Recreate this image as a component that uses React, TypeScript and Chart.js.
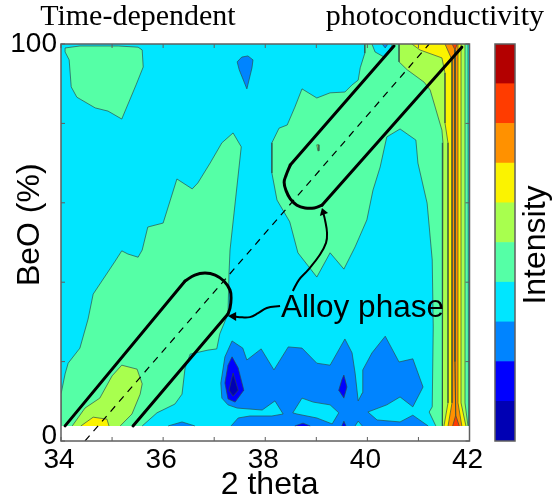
import React, { useEffect, useRef } from "react";
import { Chart, registerables } from "chart.js";

Chart.register(...registerables);

type Pair = [number, number];

const xTickValues = [34, 36, 38, 40, 42];
const yTickLabels = [0, 100];
const intensityLevels = [1, 2, 3, 4, 5, 6, 7, 8, 9, 10];
const levelColors = ["#0000b4", "#0000ff", "#0084ff", "#00e6ff", "#55ffa6", "#a8ff4e", "#fbf300", "#ff9100", "#ff3c00", "#b30000"];

const field: Pair[] = [[34, 3.8], [34, 100], [42, 100], [42, 3.8]];
const greenTopLeft: Pair[] = [[34.08, 99], [34.37, 99.5], [35.12, 99.5], [35.51, 99.2], [35.59, 98.5], [35.61, 94.2], [35.47, 89.7], [35.19, 81.1], [34.92, 83.1], [34.67, 83.9], [34.31, 86.6], [34.2, 89.2], [34.16, 96], [34.08, 98]];
const blueTop: Pair[] = [[37.45, 95.5], [37.54, 96.7], [37.66, 97], [37.76, 96], [37.74, 94], [37.64, 88.7], [37.49, 93.5]];
const greenLowerLeft: Pair[] = [[34, 3.8], [34, 11.8], [34.08, 16.9], [34.14, 19.6], [34.37, 23.4], [34.53, 30.7], [34.63, 37], [35.06, 45.3], [35.19, 47.9], [35.31, 47.1], [35.51, 46.3], [35.59, 48.1], [35.7, 53.9], [36, 54.9], [36.27, 66], [36.57, 63.5], [36.68, 65], [36.92, 70], [37.15, 75.1], [37.37, 77.6], [37.53, 74.1], [37.31, 48.1], [37.29, 42.1], [37.27, 32], [37.11, 27], [37.05, 23.2], [36.88, 22.9], [36.53, 21.9], [36.43, 18.4], [36.37, 11.8], [36.23, 9.3], [35.88, 7.1], [35.59, 3.8]];
const limeLowerLeft: Pair[] = [[34.22, 3.8], [34.47, 8.3], [34.76, 10.8], [35, 16.4], [35.19, 19.1], [35.49, 18.1], [35.59, 14.4], [35.55, 11.8], [35.39, 6.8], [35.16, 3.8]];
const yellowLowerLeft: Pair[] = [[34.39, 3.8], [34.63, 6], [34.9, 5.5], [34.94, 3.8]];
const blueBottomLeft: Pair[] = [[36.1, 3.8], [36.37, 4.8], [36.62, 3.8]];
const blueBig: Pair[] = [[37.33, 3.8], [37.47, 5.8], [37.7, 6.3], [38.13, 6.3], [38.35, 6.8], [38.19, 10.1], [37.94, 7.8], [37.45, 8.3], [37.27, 9.1], [37.15, 10.8], [37.13, 14.6], [37.21, 21.2], [37.35, 25.2], [37.56, 23.4], [37.64, 20.4], [37.92, 23.2], [38.17, 17.9], [38.45, 23.7], [38.72, 23.4], [39.01, 19.6], [39.27, 19.1], [39.56, 25.7], [39.7, 22.2], [39.76, 17.1], [39.82, 10.1], [39.9, 12.1], [39.91, 17.9], [40.09, 22.2], [40.35, 26.4], [40.62, 19.9], [40.89, 20.7], [41.09, 13.6], [40.89, 8.6], [40.64, 11.1], [40.38, 9.1], [40.01, 7.3], [40.19, 5.3], [40.64, 4.8], [40.89, 6.5], [41.19, 3.8]];
const cyanHole: Pair[] = [[38.54, 7.1], [38.72, 10.8], [38.94, 9.8], [39.27, 9.1], [39.44, 7.1], [39.31, 4.3], [39.01, 5.8], [38.62, 6.8]];
const cyanSpeck: Pair[] = [[39.76, 3.8], [39.82, 5], [39.9, 3.8]];
const deepBlueLobe: Pair[] = [[37.35, 21.2], [37.47, 18.4], [37.58, 12.8], [37.41, 9.8], [37.27, 10.6], [37.21, 14.6], [37.27, 19.1]];
const navyLobe: Pair[] = [[37.37, 17.1], [37.47, 12.8], [37.37, 11.3], [37.29, 12.8]];
const deepBlueSmall: Pair[] = [[39.54, 16.6], [39.6, 13.6], [39.54, 10.8], [39.44, 12.8], [39.5, 15.4]];
const deepBlueBottom: Pair[] = [[38.58, 3.8], [38.74, 4.5], [38.88, 3.8]];
const deepBlueNarrow: Pair[] = [[39.5, 3.8], [39.54, 5], [39.58, 3.8]];
const greenMain: Pair[] = [[39.95, 100], [39.95, 97.7], [39.86, 94], [39.82, 90.9], [39.7, 89.7], [39.56, 87.9], [39.27, 87.7], [39.01, 86.4], [38.72, 88.7], [38.58, 84.1], [38.43, 79.6], [38.27, 78.8], [38.13, 75.1], [38.13, 67.5], [38.23, 60.7], [38.48, 55.2], [38.64, 47.4], [39.01, 41.3], [39.27, 47.4], [39.54, 43.3], [39.76, 48.9], [39.99, 55.7], [40.11, 63.2], [40.25, 69], [40.38, 76.6], [40.64, 78.6], [40.95, 75.8], [40.99, 70], [41.17, 59.9], [41.27, 45.6], [41.29, 28.7], [41.27, 8.6], [41.21, 7.3], [41.34, 3.8], [41.98, 3.8], [41.97, 100]];
const cyanPocket: Pair[] = [[40.09, 100], [40.15, 98], [40.33, 96.7], [40.48, 99.5], [40.48, 100]];
const blueSpeck: Pair[] = [[40.29, 100], [40.35, 99], [40.4, 100]];
const limeSpeck: Pair[] = [[39.01, 74.6], [39.05, 74.6], [39.05, 73.1], [39.03, 73.1]];
const limeStrip: Pair[] = [[40.62, 100], [40.62, 95.5], [40.78, 93.5], [41.11, 90.4], [41.23, 88.4], [41.46, 78.3], [41.481, 75.1], [41.481, 30], [41.462, 18], [41.462, 12], [41.47, 3.8], [41.97, 3.8], [41.912, 9.6], [41.912, 100]];
const yellowStrip: Pair[] = [[40.87, 100], [41.03, 98.5], [41.46, 96.5], [41.52, 92.7], [41.52, 80.1], [41.579, 75.1], [41.579, 9.6], [41.5, 3.8], [41.93, 3.8], [41.834, 9.6], [41.834, 100]];
const orangeStrip: Pair[] = [[41.52, 100], [41.657, 96], [41.657, 9.6], [41.58, 3.8], [41.85, 3.8], [41.775, 9.6], [41.775, 100]];
const redStrip: Pair[] = [[41.66, 100], [41.716, 98.5], [41.716, 20], [41.73, 6.5], [41.67, 3.8], [41.8, 3.8], [41.73, 6.5], [41.716, 20], [41.716, 98.5], [41.76, 100]];

const lowerCapsuleLeft: Pair[] = [[34.08, 3.8], [36.43, 40.3]];
const lowerCapsuleArc: Pair[] = [[36.43, 40.3], [36.62, 41.8], [36.82, 42.3], [37.02, 41.8], [37.19, 40.3], [37.31, 38], [37.33, 35.8], [37.31, 33.5], [37.27, 32]];
const lowerCapsuleRight: Pair[] = [[37.27, 32], [35.41, 3.8]];
const upperCapsuleLeft: Pair[] = [[40.52, 99.5], [38.49, 69.5]];
const upperCapsuleArc: Pair[] = [[38.49, 69.5], [38.41, 67], [38.37, 65.2], [38.41, 63], [38.49, 61], [38.62, 59.4], [38.78, 58.7], [38.96, 58.7], [39.11, 59.4]];
const upperCapsuleRight: Pair[] = [[39.11, 59.4], [41.85, 99.2]];
const dashedGuide: Pair[] = [[34.47, 0], [41.21, 100]];
const arrowLeft: Pair[] = [[38.29, 34], [38.03, 33.5], [37.86, 32.2], [37.7, 31.2], [37.5, 31.2], [37.35, 31.5]];
const arrowLeftHead: Pair[] = [[37.27, 31.5], [37.43, 32.5], [37.43, 30.2]];
const arrowUp: Pair[] = [[38.54, 37.8], [38.66, 40.6], [38.84, 43.1], [39.07, 46.9], [39.19, 49.9], [39.21, 52.4], [39.17, 55.7], [39.13, 57.7]];
const arrowUpHead: Pair[] = [[39.11, 58.7], [39.07, 56.7], [39.23, 57.4]];
const annotationAnchor: Pair = [38.31, 33.3];

const SANS = "'Liberation Sans', Arial, sans-serif";
const SERIF = "'Liberation Serif', serif";
const [NAVY, DEEP, BLUE, CYAN, GREEN, LIME, YELLOW, ORANGE, RED] = levelColors;

const layers: [Pair[], string][] = [
  [greenTopLeft, GREEN], [blueTop, BLUE], [greenLowerLeft, GREEN], [limeLowerLeft, LIME], [yellowLowerLeft, YELLOW],
  [blueBottomLeft, BLUE], [blueBig, BLUE], [cyanHole, CYAN], [cyanSpeck, CYAN], [deepBlueLobe, DEEP], [navyLobe, NAVY],
  [deepBlueSmall, DEEP], [deepBlueBottom, DEEP], [deepBlueNarrow, DEEP], [greenMain, GREEN], [cyanPocket, CYAN],
  [blueSpeck, BLUE], [limeSpeck, LIME], [limeStrip, LIME], [yellowStrip, YELLOW], [orangeStrip, ORANGE], [redStrip, RED],
];

const toPoints = (p: Pair[]) => p.map(([x, y]) => ({ x, y }));
const isFrameEdge = (a: Pair, b: Pair) => a[1] === b[1] && (a[1] === 3.8 || a[1] === 100);
const outlinePoints = (p: Pair[]) => {
  const out: { x: number; y: number }[] = [];
  p.forEach((a, i) => {
    const b = p[(i + 1) % p.length];
    out.push({ x: a[0], y: a[1] });
    if (isFrameEdge(a, b)) out.push({ x: NaN, y: NaN });
    else if (i === p.length - 1) out.push({ x: b[0], y: b[1] });
  });
  return out;
};

const buildDatasets = () => {
  const sets: any[] = [];
  let order = 0;
  const base = { showLine: true, pointRadius: 0, pointHoverRadius: 0, tension: 0 };
  const add = (d: any) => sets.push({ ...base, order: order--, ...d });
  add({ data: toPoints(field), fill: "shape", backgroundColor: CYAN, borderWidth: 0 });
  layers.forEach(([poly, color]) => {
    add({ data: toPoints(poly), fill: "shape", backgroundColor: color, borderWidth: 0 });
    add({ data: outlinePoints(poly), fill: false, borderColor: "rgba(45,75,70,0.75)", borderWidth: 0.9, spanGaps: false });
  });
  add({ data: toPoints(dashedGuide), fill: false, borderColor: "#000", borderWidth: 1.2, borderDash: [7, 6] });
  [lowerCapsuleLeft, lowerCapsuleRight, upperCapsuleLeft, upperCapsuleRight].forEach((p) =>
    add({ data: toPoints(p), fill: false, borderColor: "#000", borderWidth: 3, borderCapStyle: "round" }));
  [lowerCapsuleArc, upperCapsuleArc].forEach((p) =>
    add({ data: toPoints(p), fill: false, borderColor: "#000", borderWidth: 3, tension: 0.4, borderCapStyle: "round" }));
  add({ data: toPoints(arrowLeft), fill: false, borderColor: "#000", borderWidth: 2, tension: 0.4 });
  add({ data: toPoints(arrowUp), fill: false, borderColor: "#000", borderWidth: 2, tension: 0.4 });
  add({ data: toPoints(arrowLeftHead), fill: "shape", backgroundColor: "#000", borderWidth: 0 });
  add({ data: toPoints(arrowUpHead), fill: "shape", backgroundColor: "#000", borderWidth: 0 });
  return sets;
};

const framePlugin = {
  id: "frame",
  afterDatasetsDraw(chart: any) {
    const { ctx, chartArea: a, scales } = chart;
    ctx.save();
    ctx.strokeStyle = "#5f5f5f";
    ctx.lineWidth = 1;
    const len = 4;
    ctx.beginPath();
    scales.x.ticks.forEach((t: any) => {
      const p = scales.x.getPixelForValue(t.value);
      ctx.moveTo(p, a.top);
      ctx.lineTo(p, a.top + len);
      ctx.moveTo(p, a.bottom);
      ctx.lineTo(p, a.bottom - len);
    });
    scales.y.ticks.forEach((t: any) => {
      const p = scales.y.getPixelForValue(t.value);
      ctx.moveTo(a.left, p);
      ctx.lineTo(a.left + len, p);
      ctx.moveTo(a.right, p);
      ctx.lineTo(a.right - len, p);
    });
    ctx.stroke();
    ctx.lineWidth = 1.5;
    ctx.strokeRect(a.left, a.top, a.right - a.left, a.bottom - a.top);
    ctx.fillStyle = "#000";
    ctx.font = `31.5px ${SANS}`;
    ctx.textBaseline = "middle";
    ctx.textAlign = "left";
    ctx.fillText("Alloy phase", scales.x.getPixelForValue(annotationAnchor[0]), scales.y.getPixelForValue(annotationAnchor[1]));
    ctx.restore();
  },
};

const colorbarPlugin = {
  id: "colorbarFrame",
  afterDraw(chart: any) {
    const { ctx, chartArea: a } = chart;
    ctx.save();
    ctx.strokeStyle = "#5f5f5f";
    ctx.lineWidth = 1.5;
    ctx.strokeRect(a.left, a.top, a.right - a.left, a.bottom - a.top);
    ctx.fillStyle = "#000";
    ctx.font = `32px ${SANS}`;
    ctx.textAlign = "center";
    ctx.textBaseline = "alphabetic";
    ctx.translate(a.right + 30, 245);
    ctx.rotate(-Math.PI / 2);
    ctx.fillText("Intensity", 0, 0);
    ctx.restore();
  },
};

export default function App() {
  const mainRef = useRef<HTMLCanvasElement>(null);
  const barRef = useRef<HTMLCanvasElement>(null);

  useEffect(() => {
    const main = new Chart(mainRef.current!, {
      type: "scatter",
      data: { datasets: buildDatasets() },
      plugins: [framePlugin],
      options: {
        animation: false,
        responsive: false,
        events: [],
        layout: { padding: { left: 0, right: 10, top: 0, bottom: 0 } },
        plugins: {
          legend: { display: false },
          tooltip: { enabled: false },
          title: {
            display: true,
            text: "Time-dependent            photoconductivity",
            align: "end",
            color: "#000",
            font: { family: SERIF, size: 30, weight: "normal", lineHeight: 34 / 30 },
            padding: { top: 0, bottom: 10 },
          },
        },
        scales: {
          x: {
            type: "linear",
            min: 34,
            max: 42,
            grid: { display: false, drawTicks: false },
            border: { display: false },
            ticks: {
              stepSize: 1,
              autoSkip: false,
              maxRotation: 0,
              labelOffset: -2,
              color: "#000",
              padding: 2,
              font: { family: SANS, size: 28 },
              callback: (v: any) => (xTickValues.includes(v) ? String(v) : ""),
            },
            title: {
              display: true,
              text: " 2 theta",
              color: "#000",
              font: { family: SANS, size: 32, lineHeight: 1 },
              padding: { top: 0, bottom: 1 },
            },
            afterFit: (s: any) => { s.height = 61; },
          },
          y: {
            type: "linear",
            min: 0,
            max: 100,
            grid: { display: false, drawTicks: false },
            border: { display: false },
            ticks: {
              stepSize: 20,
              autoSkip: false,
              color: "#000",
              padding: 4,
              font: (c: any) => ({ family: SANS, size: 28, lineHeight: c.tick && c.tick.value === 0 ? 10 / 28 : 1.2 }),
              callback: (v: any) => (yTickLabels.includes(v) ? (v === 0 ? ["0", ""] : String(v)) : ""),
            },
            title: {
              display: true,
              text: "    BeO (%)",
              color: "#000",
              font: { family: SANS, size: 32, lineHeight: 1 },
              padding: { top: 14, bottom: 0 },
            },
            afterFit: (s: any) => { s.width = 61; },
          },
          spacer: {
            type: "linear",
            position: "right",
            display: true,
            grid: { display: false, drawTicks: false },
            border: { display: false },
            ticks: { display: false },
            afterFit: (s: any) => { s.width = 74.5; },
          },
        },
      },
    } as any);

    const bar = new Chart(barRef.current!, {
      type: "bar",
      data: {
        labels: ["Intensity"],
        datasets: intensityLevels.map((level, i) => ({
          label: String(level),
          data: [1],
          backgroundColor: levelColors[i],
          borderWidth: 0,
          barPercentage: 1,
          categoryPercentage: 1,
        })),
      },
      plugins: [colorbarPlugin],
      options: {
        animation: false,
        responsive: false,
        events: [],
        layout: { padding: { left: 10, right: 39, top: 44, bottom: 61 } },
        plugins: { legend: { display: false }, tooltip: { enabled: false } },
        scales: {
          x: { stacked: true, display: false },
          y: { stacked: true, display: false, min: 0, max: intensityLevels.length },
        },
      },
    } as any);

    return () => {
      main.destroy();
      bar.destroy();
    };
  }, []);

  return (
    <div style={{ position: "absolute", left: 0, top: 0, width: 554, height: 502 }}>
      <canvas ref={mainRef} width={554} height={502} style={{ position: "absolute", left: 0, top: 0, display: "block" }} />
      <canvas ref={barRef} width={69} height={502} style={{ position: "absolute", left: 485, top: 0, display: "block" }} />
    </div>
  );
}
